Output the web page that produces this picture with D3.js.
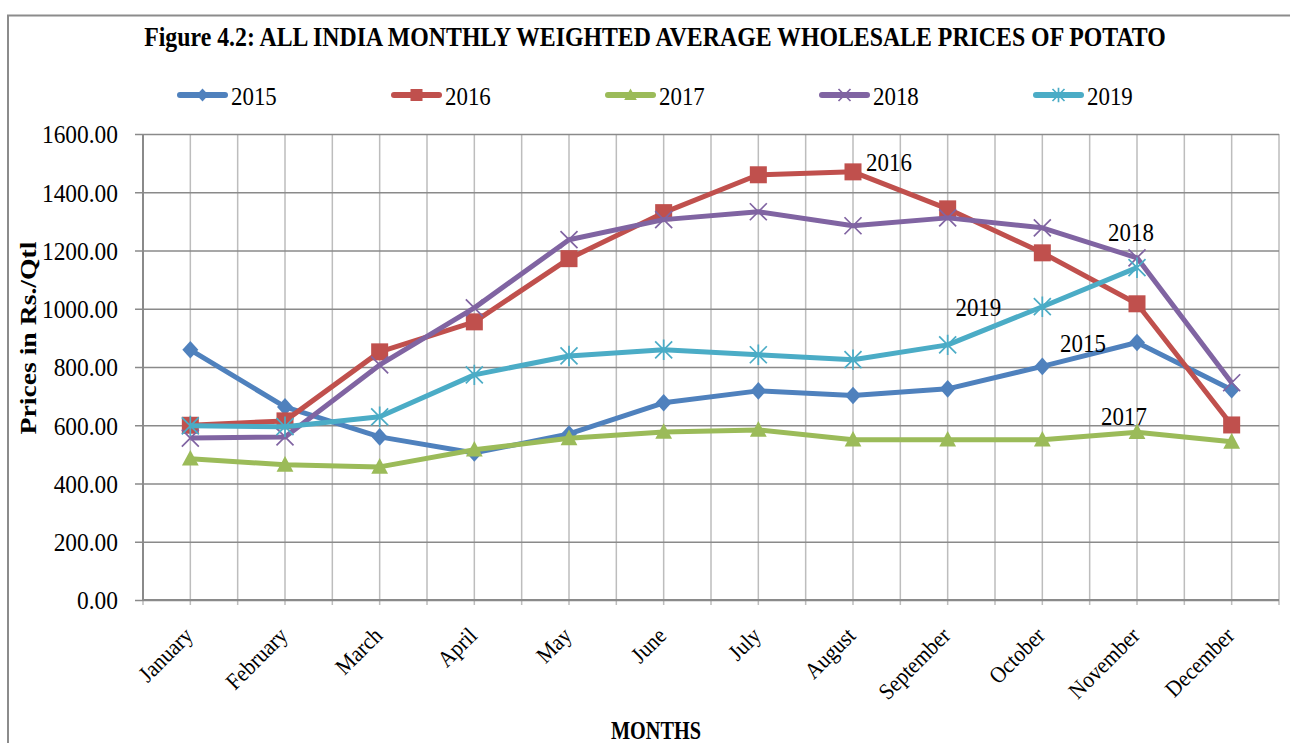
<!DOCTYPE html>
<html>
<head>
<meta charset="utf-8">
<script src="https://cdn.jsdelivr.net/npm/d3@7"></script>
<style>
  body { margin: 0; background: #fff; }
  text { font-family: "Liberation Serif", "DejaVu Serif", serif; fill: #000; }
</style>
</head>
<body>
<svg id="chart" width="1290" height="743"></svg>
<script>
// Chart data
const months = ["January", "February", "March", "April", "May", "June", "July",
  "August", "September", "October", "November", "December"];
const years = ["2015", "2016", "2017", "2018", "2019"];
const prices2015 = [859, 663, 560, 505, 570, 677, 718, 702, 725, 802, 884, 722];
const prices2016 = [600, 615, 852, 955, 1172, 1330, 1460, 1470, 1343, 1192, 1017, 601];
const prices2017 = [485, 464, 457, 516, 555, 577, 584, 550, 550, 550, 576, 543];
const prices2018 = [556, 560, 807, 1003, 1237, 1306, 1333, 1285, 1312, 1278, 1175, 746];
const prices2019 = [598, 595, 629, 773, 838, 859, 842, 825, 876, 1007, 1141, null];
const yTicks = [0, 200, 400, 600, 800, 1000, 1200, 1400, 1600];
// data labels: series, month it is attached to
const seriesLabels = [
  { year: "2016", month: "August", dx: 36, dy: -1 },
  { year: "2018", month: "November", dx: -6, dy: -17 },
  { year: "2019", month: "October", dx: -64, dy: 9 },
  { year: "2015", month: "November", dx: -54, dy: 9 },
  { year: "2017", month: "November", dx: -13, dy: -7 }
];

const seriesValues = [prices2015, prices2016, prices2017, prices2018, prices2019];
const colors = ["#4F81BD", "#C0504D", "#9BBB59", "#8064A2", "#4BACC6"];
const markers = ["diamond", "square", "triangle", "x", "asterisk"];

const svg = d3.select("#chart");
const margin = { left: 143, right: 1279, top: 134, bottom: 600 };

const xBand = d3.scaleBand().domain(months).range([margin.left, margin.right]);
const x = m => xBand(m) + xBand.bandwidth() / 2;
const y = d3.scaleLinear().domain([0, 1600]).range([margin.bottom, margin.top]);

// squeeze text horizontally (the original font is narrower)
function condense(sel, f) {
  sel.each(function() {
    const w = this.getComputedTextLength();
    d3.select(this).attr("textLength", w * f).attr("lengthAdjust", "spacingAndGlyphs");
  });
}

// outer border
svg.append("rect")
  .attr("x", 8).attr("y", 15.5).attr("width", 1290).attr("height", 740)
  .attr("fill", "none").attr("stroke", "#8c8c8c").attr("stroke-width", 2);

// title (squeezed with a transform to the original's narrow width)
const title = svg.append("text")
  .attr("text-anchor", "middle")
  .attr("font-size", 28).attr("font-weight", "bold")
  .text("Figure 4.2: ALL INDIA MONTHLY WEIGHTED AVERAGE WHOLESALE PRICES OF POTATO");
const titleW = title.node().getComputedTextLength();
title.attr("transform", `translate(655,46) scale(${1022 / titleW},1)`);

// vertical grid lines at half-band steps
const halfSteps = d3.range(0, months.length * 2 + 1);
svg.append("g").selectAll("line")
  .data(halfSteps)
  .join("line")
  .attr("x1", i => margin.left + i * xBand.bandwidth() / 2)
  .attr("x2", i => margin.left + i * xBand.bandwidth() / 2)
  .attr("y1", margin.top)
  .attr("y2", margin.bottom + 5)
  .attr("stroke", "#bdbdbd").attr("stroke-width", 1.5);

// horizontal grid + y axis
const yAxis = d3.axisLeft(y)
  .tickValues(yTicks)
  .tickSize(-(margin.right - margin.left))
  .tickFormat(d3.format(".2f"));
const yg = svg.append("g")
  .attr("transform", `translate(${margin.left},0)`)
  .call(yAxis);
yg.select(".domain").remove();
yg.selectAll(".tick line")
  .attr("x1", -8)
  .attr("stroke", "#8a8a8a").attr("stroke-width", 1.5);
yg.selectAll(".tick text")
  .attr("x", -25).attr("dy", "0.34em")
  .attr("font-size", 26)
  .attr("font-family", "Liberation Serif")
  .call(condense, 0.9);

// axis lines
svg.append("line")
  .attr("x1", margin.left).attr("x2", margin.left)
  .attr("y1", margin.top).attr("y2", margin.bottom)
  .attr("stroke", "#8a8a8a").attr("stroke-width", 2);
svg.append("line")
  .attr("x1", margin.left).attr("x2", margin.right)
  .attr("y1", margin.bottom).attr("y2", margin.bottom)
  .attr("stroke", "#8a8a8a").attr("stroke-width", 2);

// x labels
svg.append("g").selectAll("text")
  .data(months)
  .join("text")
  .attr("transform", m => `translate(${x(m) + 4},${637}) rotate(-45)`)
  .attr("text-anchor", "end")
  .attr("font-size", 23)
  .text(m => m)
  .call(condense, 0.92);

// axis titles
svg.append("text")
  .attr("transform", "translate(36,338) rotate(-90)")
  .attr("text-anchor", "middle")
  .attr("font-size", 24).attr("font-weight", "bold")
  .attr("textLength", 193).attr("lengthAdjust", "spacingAndGlyphs")
  .text("Prices in Rs./Qtl");
svg.append("text")
  .attr("x", 656).attr("y", 739)
  .attr("text-anchor", "middle")
  .attr("font-size", 25).attr("font-weight", "bold")
  .attr("textLength", 90).attr("lengthAdjust", "spacingAndGlyphs")
  .text("MONTHS");

function drawMarker(sel, type, color, s) {
  if (type === "diamond") {
    sel.append("path")
      .attr("d", `M0,${-s * 1.1}L${s},0L0,${s * 1.1}L${-s},0Z`).attr("fill", color);
  } else if (type === "square") {
    sel.append("rect")
      .attr("x", -s).attr("y", -s).attr("width", 2 * s).attr("height", 2 * s)
      .attr("fill", color);
  } else if (type === "triangle") {
    sel.append("path")
      .attr("d", `M0,${-s * 1.1}L${s * 1.05},${s * 0.85}L${-s * 1.05},${s * 0.85}Z`).attr("fill", color);
  } else if (type === "x") {
    sel.append("path")
      .attr("d", `M${-s},${-s}L${s},${s}M${-s},${s}L${s},${-s}`)
      .attr("stroke", color).attr("stroke-width", 1.7).attr("fill", "none");
  } else {
    sel.append("path")
      .attr("d", `M${-s},${-s}L${s},${s}M${-s},${s}L${s},${-s}M0,${-s * 1.2}L0,${s * 1.2}`)
      .attr("stroke", color).attr("stroke-width", 1.7).attr("fill", "none");
  }
}

// series lines + markers
const line = d3.line()
  .defined(d => d.v !== null)
  .x(d => x(d.m))
  .y(d => y(d.v));

seriesValues.forEach((vals, i) => {
  const pts = months.map((m, j) => ({ m, v: vals[j] }));
  const g = svg.append("g");
  g.append("path")
    .datum(pts)
    .attr("d", line)
    .attr("fill", "none")
    .attr("stroke", colors[i])
    .attr("stroke-width", 5)
    .attr("stroke-linejoin", "round");
  pts.filter(d => d.v !== null).forEach(d => {
    const mg = g.append("g").attr("transform", `translate(${x(d.m)},${y(d.v)})`);
    drawMarker(mg, markers[i], colors[i], i === 1 ? 8.5 : (i >= 3 ? 8.5 : 8));
  });
});

// data labels
seriesLabels.forEach(l => {
  const vals = seriesValues[years.indexOf(l.year)];
  const v = vals[months.indexOf(l.month)];
  svg.append("text")
    .attr("x", x(l.month) + l.dx)
    .attr("y", y(v) + l.dy)
    .attr("text-anchor", "middle")
    .attr("font-size", 26)
    .text(l.year)
    .call(condense, 0.88);
});

// legend
const legendX = [180, 394, 608, 822, 1036];
years.forEach((yr, i) => {
  const lg = svg.append("g").attr("transform", `translate(${legendX[i]},95)`);
  lg.append("line")
    .attr("x1", 0).attr("x2", 45)
    .attr("stroke", colors[i]).attr("stroke-width", 6)
    .attr("stroke-linecap", "round");
  const mg = lg.append("g").attr("transform", "translate(22.5,0)");
  drawMarker(mg, markers[i], colors[i], 6);
  lg.append("text")
    .attr("x", 51).attr("y", 10)
    .attr("font-size", 26)
    .text(yr)
    .call(condense, 0.88);
});
</script>
</body>
</html>
